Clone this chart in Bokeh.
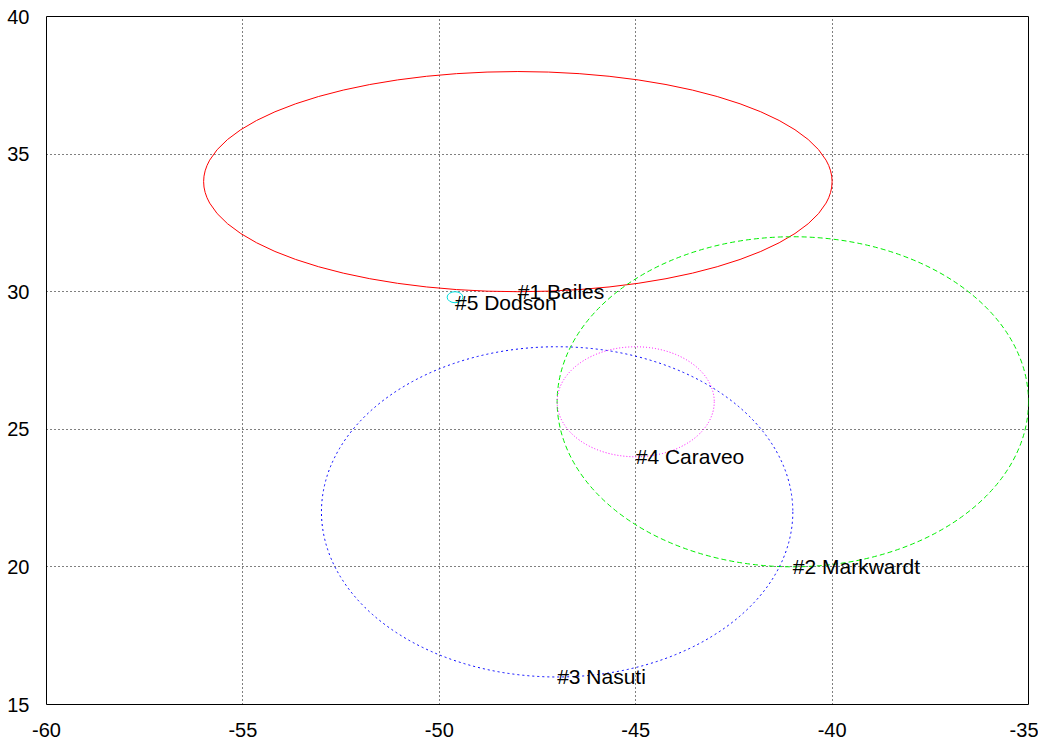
from bokeh.plotting import figure
from bokeh.models import Range1d, FixedTicker, ColumnDataSource
from bokeh.core.properties import value
from bokeh.embed import file_html
from bokeh.resources import INLINE

# Data: ellipses (center, full width, full height) and their labels
names = ["#1 Bailes", "#2 Markwardt", "#3 Nasuti", "#4 Caraveo", "#5 Dodson"]
cx = [-48.0, -41.0, -47.0, -45.0, -49.6]
cy = [34.0, 26.0, 22.0, 26.0, 29.8]
widths = [16.0, 12.0, 12.0, 4.0, 0.4]
heights = [8.0, 12.0, 12.0, 4.0, 0.4]
colors = ["#ff0000", "#00ee00", "#0000ff", "#ff00ff", "#00dddd"]
dashes = ["solid", "5 3", "2 3", "1 2", "solid"]

x_ticks = [-60, -55, -50, -45, -40, -35]
x_labels = ["-60", "-55", "-50", "-45", "-40", "-35"]
y_ticks = [15, 20, 25, 30, 35, 40]
y_labels = ["15", "20", "25", "30", "35", "40"]

p = figure(frame_width=982, frame_height=688,
           x_range=Range1d(-60, -35), y_range=Range1d(15, 40),
           output_backend="svg", toolbar_location=None,
           min_border_left=46, min_border_right=10,
           min_border_top=16, min_border_bottom=30)
p.background_fill_color = "white"
p.border_fill_color = "white"
p.outline_line_color = "black"
p.outline_line_width = 1

for ax, ticks, labels in ((p.xaxis, x_ticks, x_labels), (p.yaxis, y_ticks, y_labels)):
    ax.ticker = FixedTicker(ticks=ticks)
    ax.major_label_overrides = {t: l for t, l in zip(ticks, labels)}
    ax.axis_line_color = None
    ax.major_tick_line_color = None
    ax.minor_tick_line_color = None
    ax.major_label_text_font = "Liberation Sans"
    ax.major_label_text_font_size = "20px"
    ax.major_label_text_color = "black"
p.xaxis.major_label_standoff = 12
p.yaxis.major_label_standoff = 11

for g in (p.xgrid, p.ygrid):
    g.grid_line_color = "black"
    g.grid_line_dash = "1 3"
    g.grid_line_width = 1
    g.grid_line_alpha = 1.0

for i in range(len(names)):
    p.ellipse(x=[cx[i]], y=[cy[i]], width=[widths[i]], height=[heights[i]],
              fill_color=None, line_color=colors[i], line_width=1,
              line_dash=dashes[i])

lab_y = [cy[i] - heights[i] / 2 for i in range(len(names))]
src = ColumnDataSource(dict(x=cx, y=lab_y, t=names))
p.text(x="x", y="y", text="t", source=src, text_align="left",
       text_baseline="middle", text_font=value("Liberation Sans"),
       text_font_size="21px", text_color="black")

open("out.html", "w").write(file_html(p, INLINE))
